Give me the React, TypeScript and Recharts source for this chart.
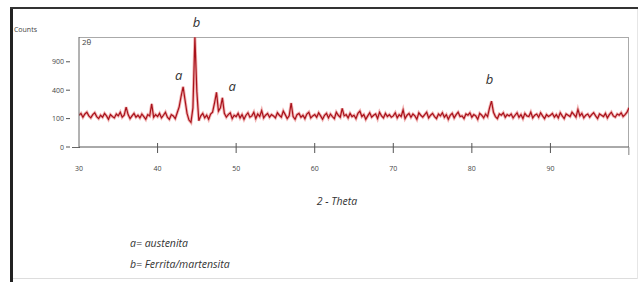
import React from 'react';
import { LineChart, Line, XAxis, YAxis, ReferenceDot } from 'recharts';

const theta = [
  30, 30.25, 30.5, 30.75, 31, 31.25, 31.5, 31.75, 32, 32.25, 32.5, 32.75, 33, 33.25, 33.5, 33.75, 34, 34.25, 34.5, 34.75,
  35, 35.25, 35.5, 35.75, 36, 36.25, 36.5, 36.75, 37, 37.25, 37.5, 37.75, 38, 38.25, 38.5, 38.75, 39, 39.25, 39.5, 39.75,
  40, 40.25, 40.5, 40.75, 41, 41.25, 41.5, 41.75, 42, 42.25, 42.5, 42.75, 43, 43.25, 43.5, 43.75, 44, 44.25, 44.5, 44.75,
  45, 45.25, 45.5, 45.75, 46, 46.25, 46.5, 46.75, 47, 47.25, 47.5, 47.75, 48, 48.25, 48.5, 48.75, 49, 49.25, 49.5, 49.75,
  50, 50.25, 50.5, 50.75, 51, 51.25, 51.5, 51.75, 52, 52.25, 52.5, 52.75, 53, 53.25, 53.5, 53.75, 54, 54.25, 54.5, 54.75,
  55, 55.25, 55.5, 55.75, 56, 56.25, 56.5, 56.75, 57, 57.25, 57.5, 57.75, 58, 58.25, 58.5, 58.75, 59, 59.25, 59.5, 59.75,
  60, 60.25, 60.5, 60.75, 61, 61.25, 61.5, 61.75, 62, 62.25, 62.5, 62.75, 63, 63.25, 63.5, 63.75, 64, 64.25, 64.5, 64.75,
  65, 65.25, 65.5, 65.75, 66, 66.25, 66.5, 66.75, 67, 67.25, 67.5, 67.75, 68, 68.25, 68.5, 68.75, 69, 69.25, 69.5, 69.75,
  70, 70.25, 70.5, 70.75, 71, 71.25, 71.5, 71.75, 72, 72.25, 72.5, 72.75, 73, 73.25, 73.5, 73.75, 74, 74.25, 74.5, 74.75,
  75, 75.25, 75.5, 75.75, 76, 76.25, 76.5, 76.75, 77, 77.25, 77.5, 77.75, 78, 78.25, 78.5, 78.75, 79, 79.25, 79.5, 79.75,
  80, 80.25, 80.5, 80.75, 81, 81.25, 81.5, 81.75, 82, 82.25, 82.5, 82.75, 83, 83.25, 83.5, 83.75, 84, 84.25, 84.5, 84.75,
  85, 85.25, 85.5, 85.75, 86, 86.25, 86.5, 86.75, 87, 87.25, 87.5, 87.75, 88, 88.25, 88.5, 88.75, 89, 89.25, 89.5, 89.75,
  90, 90.25, 90.5, 90.75, 91, 91.25, 91.5, 91.75, 92, 92.25, 92.5, 92.75, 93, 93.25, 93.5, 93.75, 94, 94.25, 94.5, 94.75,
  95, 95.25, 95.5, 95.75, 96, 96.25, 96.5, 96.75, 97, 97.25, 97.5, 97.75, 98, 98.25, 98.5, 98.75, 99, 99.25, 99.5, 99.75,
  100,
];

const counts = [
  125, 140, 110, 135, 150, 120, 105, 130, 145, 115, 100, 125, 110, 140, 120, 95, 130, 115, 105, 135,
  120, 150, 110, 125, 198, 130, 100, 120, 140, 110, 125, 105, 135, 115, 95, 130, 120, 230, 110, 130,
  115, 140, 105, 125, 150, 110, 95, 130, 120, 100, 145, 200, 320, 450, 270, 140, 90, 75, 190, 1490,
  380, 85, 120, 140, 105, 125, 95, 135, 150, 240, 370, 160, 190, 300, 140, 110, 130, 145, 100, 125,
  115, 140, 105, 130, 95, 125, 145, 110, 120, 150, 100, 135, 115, 165, 105, 125, 140, 110, 130, 120,
  105, 145, 125, 110, 160, 130, 100, 120, 240, 115, 95, 130, 140, 110, 125, 100, 135, 150, 105, 120,
  130, 110, 145, 120, 95, 125, 140, 105, 135, 115, 100, 150, 125, 110, 185, 120, 130, 105, 140, 115,
  125, 100, 140, 160, 115, 130, 95, 120, 145, 110, 125, 135, 100, 150, 120, 105, 140, 115, 130, 110,
  120, 145, 105, 130, 115, 170, 100, 125, 140, 110, 135, 120, 95, 145, 125, 110, 130, 150, 105, 125,
  140, 115, 100, 135, 120, 145, 110, 130, 95, 125, 140, 105, 130, 150, 115, 120, 100, 135, 125, 145,
  110, 130, 120, 95, 140, 125, 105, 135, 115, 190, 260, 150, 115, 100, 135, 125, 145, 110, 130, 120,
  135, 105, 125, 145, 110, 130, 100, 140, 120, 115, 150, 105, 125, 135, 110, 145, 120, 100, 130, 115,
  125, 140, 110, 130, 105, 145, 120, 100, 135, 125, 115, 150, 130, 110, 175, 120, 140, 105, 125, 135,
  110, 130, 145, 120, 100, 135, 125, 115, 140, 105, 130, 150, 120, 110, 135, 125, 145, 115, 130, 150,
  190,
];

const xTicks = [30, 40, 50, 60, 70, 80, 90, 100];
const xTickLabels = ['30', '40', '50', '60', '70', '80', '90', ''];
const yTicks = [0, 100, 400, 900];

const peakLabels = ['a', 'b', 'a', 'b'];
const peakLabelTheta = [42.7, 44.95, 49.5, 82.25];
const peakLabelCounts = [643, 1937, 461, 573];

const data = theta.map((t, i) => ({ theta: t, counts: counts[i] }));

const FONT = '"Open Sans", "DejaVu Sans", sans-serif';

const XTick = (props: any) => {
  const { x, y, payload } = props;
  const idx = xTicks.indexOf(payload.value);
  const label = idx >= 0 ? xTickLabels[idx] : '';
  const isFirst = payload.value === 30;
  const isLast = payload.value === 100;
  return (
    <g>
      {!isFirst && (
        <line x1={x} x2={x} y1={isLast ? y : y - 4} y2={y + (isLast ? 8 : 6)} stroke={isLast ? '#aaa' : '#555'} strokeWidth={1} />
      )}
      {label && (
        <text x={x} y={y + 24} textAnchor="middle" fontSize={7} fill="#444" fontFamily={FONT}>
          {label}
        </text>
      )}
    </g>
  );
};

const YTick = (props: any) => {
  const { x, y, payload } = props;
  return (
    <g>
      <line x1={x - 13} x2={x - 9} y1={y} y2={y} stroke="#555" strokeWidth={1} />
      <text x={x - 15} y={y + 2.5} textAnchor="end" fontSize={7} fill="#444" fontFamily={FONT}>
        {payload.value}
      </text>
    </g>
  );
};

export default function App() {
  return (
    <div style={{ position: 'absolute', left: 0, top: 0, width: 638, height: 282, background: '#fff', overflow: 'hidden' }}>
      <div style={{ position: 'absolute', left: 79, top: 37, width: 550, height: 1, background: '#aaa' }} />
      <div style={{ position: 'absolute', left: 628, top: 37, width: 1, height: 118, background: '#aaa' }} />
      <div style={{ position: 'absolute', left: 72, top: 147, width: 8, height: 1, background: '#666' }} />
      <div style={{ position: 'absolute', left: 0, top: 0 }}>
        <LineChart width={638} height={282} data={data} margin={{ top: 37, right: 9, bottom: 105, left: 39 }}>
          <XAxis
            dataKey="theta"
            type="number"
            domain={[30, 100]}
            ticks={xTicks}
            allowDataOverflow
            height={30}
            tickSize={0}
            tickMargin={0}
            tick={<XTick />}
            tickLine={false}
            axisLine={{ stroke: '#555', strokeWidth: 1 }}
            interval={0}
          />
          <YAxis
            type="number"
            scale="sqrt"
            domain={[0, 1500]}
            ticks={yTicks}
            allowDataOverflow
            width={40}
            tickSize={0}
            tickMargin={0}
            tick={<YTick />}
            tickLine={false}
            axisLine={{ stroke: '#666', strokeWidth: 1 }}
            interval={0}
          />
          <Line
            type="linear"
            dataKey="counts"
            stroke="#e57373"
            strokeOpacity={0.55}
            strokeWidth={3}
            dot={false}
            isAnimationActive={false}
          />
          <Line
            type="linear"
            dataKey="counts"
            stroke="#a8121b"
            strokeWidth={1.2}
            dot={false}
            isAnimationActive={false}
          />
          {peakLabels.map((lbl, i) => (
            <ReferenceDot
              key={i}
              x={peakLabelTheta[i]}
              y={peakLabelCounts[i]}
              r={0}
              ifOverflow="visible"
              stroke="none"
              fill="none"
              label={{ value: lbl, position: 'center', fill: '#333', fontSize: 13, fontStyle: 'italic', fontFamily: FONT }}
            />
          ))}
        </LineChart>
      </div>

      <div style={{ position: 'absolute', left: 82, top: 37, fontSize: 8, color: '#444', fontFamily: FONT, lineHeight: '10px' }}>2θ</div>
      <div style={{ position: 'absolute', right: 638 - 37, top: 25, fontSize: 7, color: '#444', fontFamily: FONT, lineHeight: '9px' }}>Counts</div>
      <div style={{ position: 'absolute', left: 0, width: 674, top: 194, textAlign: 'center', fontSize: 10.5, fontStyle: 'italic', color: '#333', fontFamily: FONT, lineHeight: '14px' }}>2 - Theta</div>
      <div style={{ position: 'absolute', left: 130, top: 233, fontSize: 10.5, fontStyle: 'italic', color: '#333', fontFamily: FONT, lineHeight: '21px' }}>
        <div>a= austenita</div>
        <div>b= Ferrita/martensita</div>
      </div>

      <div style={{ position: 'absolute', left: 10, top: 7, width: 3, height: 275, background: '#222' }} />
      <div style={{ position: 'absolute', left: 10, top: 7, width: 628, height: 2, background: '#333' }} />
      <div style={{ position: 'absolute', left: 13, top: 278, width: 625, height: 1, background: '#ddd' }} />
      <div style={{ position: 'absolute', left: 637, top: 9, width: 1, height: 270, background: '#e6e6e6' }} />
    </div>
  );
}
